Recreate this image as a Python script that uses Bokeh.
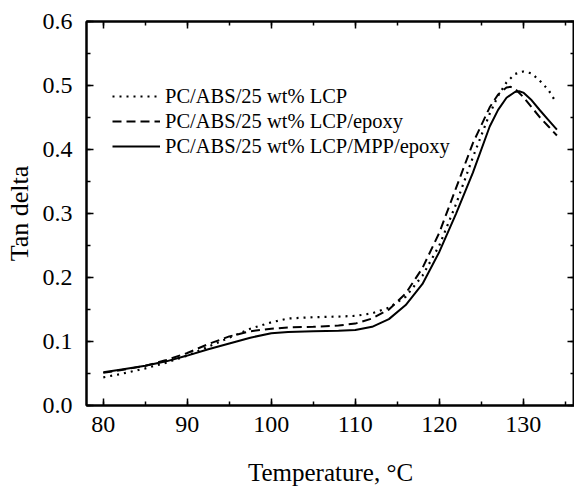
from bokeh.plotting import figure
from bokeh.models import (Range1d, LinearAxis, SingleIntervalTicker, NumeralTickFormatter,
                          CustomJSTickFormatter, Legend, LegendItem)
from bokeh.embed import file_html
from bokeh.resources import INLINE

# Temperature (°C) and tan delta values
temp_lcp = [80, 82, 85, 87.5, 90, 92.5, 95, 97.5, 100, 102, 105, 108, 110, 112, 114, 116, 118,
            120, 122, 124, 126, 127, 128, 129, 130, 131, 132, 133, 133.7]
tan_lcp = [0.044, 0.049, 0.058, 0.067, 0.078, 0.092, 0.106, 0.120, 0.130, 0.136, 0.138, 0.139,
           0.140, 0.144, 0.153, 0.170, 0.203, 0.250, 0.315, 0.388, 0.456, 0.484, 0.505, 0.518,
           0.522, 0.519, 0.507, 0.493, 0.478]

temp_epoxy = [80, 82, 85, 87.5, 90, 92.5, 95, 97.5, 100, 102, 105, 108, 110, 112, 114, 116, 118,
              120, 122, 124, 126, 127, 128, 128.5, 129, 130, 131, 132, 133, 134]
tan_epoxy = [0.051, 0.055, 0.062, 0.071, 0.082, 0.096, 0.108, 0.116, 0.120, 0.122, 0.123, 0.125,
             0.128, 0.136, 0.150, 0.175, 0.215, 0.270, 0.340, 0.410, 0.466, 0.486, 0.497, 0.498,
             0.495, 0.482, 0.466, 0.450, 0.436, 0.422]

temp_mpp = [80, 82, 85, 87.5, 90, 92.5, 95, 97.5, 100, 102, 105, 108, 110, 112, 114, 116, 118,
            120, 122, 124, 126, 127, 128, 129, 129.5, 130, 131, 132, 133, 134]
tan_mpp = [0.052, 0.056, 0.062, 0.069, 0.078, 0.088, 0.097, 0.106, 0.113, 0.115, 0.116, 0.117,
           0.118, 0.123, 0.135, 0.157, 0.190, 0.240, 0.300, 0.364, 0.436, 0.462, 0.481, 0.490,
           0.491, 0.489, 0.477, 0.461, 0.446, 0.431]

labels = ["PC/ABS/25 wt% LCP", "PC/ABS/25 wt% LCP/epoxy", "PC/ABS/25 wt% LCP/MPP/epoxy"]

x_ticks_interval = 10
y_ticks_interval = 0.1

FONT = "Liberation Serif"
FW = 488

p = figure(frame_width=FW, frame_height=384, output_backend="svg", toolbar_location=None,
           x_range=Range1d(78, 78 + FW / 8.4), y_range=Range1d(0, 0.6001),
           min_border_left=86, min_border_top=21, min_border_bottom=76, min_border_right=0,
           x_axis_location=None, y_axis_location=None)
p.background_fill_color = "white"
p.border_fill_color = "white"
p.outline_line_color = "black"
p.outline_line_width = 2
p.grid.visible = False


def make_axis(show_labels, xaxis=True):
    ticker = SingleIntervalTicker(interval=x_ticks_interval if xaxis else y_ticks_interval,
                                  num_minor_ticks=2)
    ax = LinearAxis(ticker=ticker)
    ax.axis_line_color = "black"
    ax.axis_line_width = 2
    ax.major_tick_in = 7
    ax.major_tick_out = 0
    ax.minor_tick_in = 4
    ax.minor_tick_out = 0
    ax.major_tick_line_width = 1.5
    ax.minor_tick_line_width = 1.5
    ax.major_tick_line_color = "black"
    ax.minor_tick_line_color = "black"
    ax.major_label_text_font = FONT
    ax.major_label_text_color = "black"
    ax.major_label_text_font_size = "24px"
    ax.axis_label_text_font = FONT
    ax.axis_label_text_font_style = "normal"
    ax.axis_label_text_color = "black"
    ax.axis_label_text_font_size = "25px"
    if not xaxis:
        ax.formatter = NumeralTickFormatter(format="0.0")
    if not show_labels:
        ax.formatter = CustomJSTickFormatter(code="return '';")
        ax.major_label_standoff = 0
    return ax


xb = make_axis(True, True)
xb.axis_label = "Temperature, °C"
xb.major_label_standoff = 11
xb.axis_label_standoff = 24
p.add_layout(xb, "below")

yl = make_axis(True, False)
yl.axis_label = "Tan delta"
yl.axis_label_text_font_size = "26px"
yl.major_label_standoff = 14
yl.axis_label_standoff = 6
p.add_layout(yl, "left")

p.add_layout(make_axis(False, True), "above")
p.add_layout(make_axis(False, False), "right")

r1 = p.line(temp_lcp, tan_lcp, line_color="black", line_width=2.2, line_dash="2 5")
r2 = p.line(temp_epoxy, tan_epoxy, line_color="black", line_width=2, line_dash="9 5")
r3 = p.line(temp_mpp, tan_mpp, line_color="black", line_width=2)

legend = Legend(items=[LegendItem(label=labels[0], renderers=[r1]),
                       LegendItem(label=labels[1], renderers=[r2]),
                       LegendItem(label=labels[2], renderers=[r3])],
                location=(26, 247))
legend.border_line_color = None
legend.background_fill_alpha = 0
legend.padding = 0
legend.margin = 0
legend.spacing = 1
legend.glyph_width = 48
legend.glyph_height = 24
legend.label_height = 24
legend.label_standoff = 5
legend.label_text_font = FONT
legend.label_text_font_size = "20.5px"
legend.label_text_color = "black"
p.add_layout(legend, "center")

open("out.html", "w").write(file_html(p, INLINE))
